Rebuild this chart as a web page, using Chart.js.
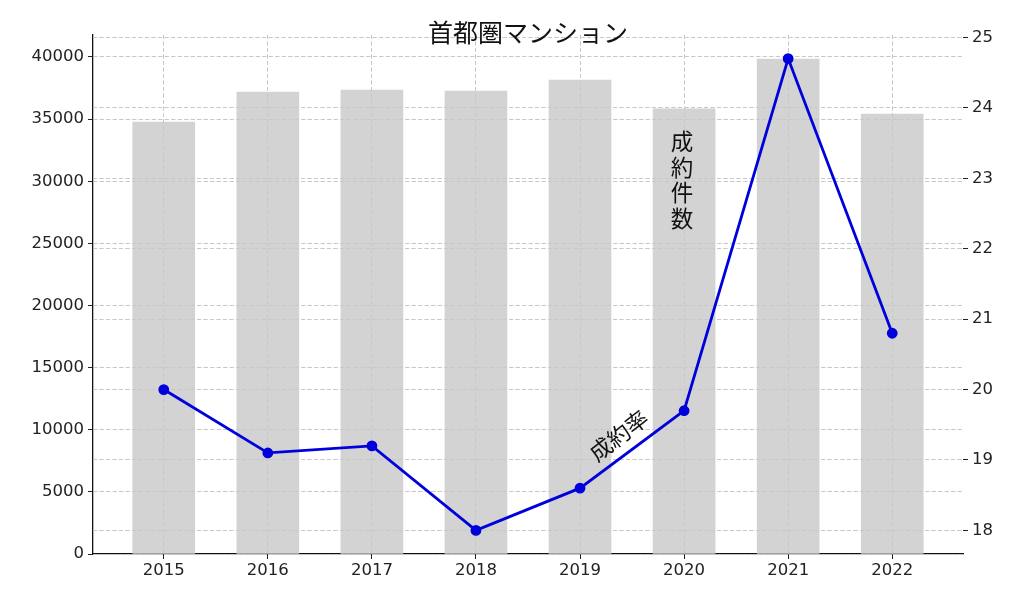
<!DOCTYPE html>
<html>
<head>
<meta charset="utf-8">
<script src="https://cdn.jsdelivr.net/npm/chart.js@4"></script>
<style>
  html, body { margin: 0; padding: 0; background: #fff; }
  #wrap { width: 1024px; height: 610px; }
</style>
</head>
<body>
<div id="wrap"><canvas id="chart" width="1024" height="610"></canvas></div>
<script>
// =========================
// DATA
// =========================

const YEARS = ["2015", "2016", "2017", "2018", "2019", "2020", "2021", "2022"];
const CONTRACTS = [34770, 37180, 37340, 37260, 38150, 35820, 39830, 35410];   // 成約件数
const RATE = [20.0, 19.1, 19.2, 18.0, 18.6, 19.7, 24.7, 20.8];                 // 成約率
const LEFT_TICKS = [0, 5000, 10000, 15000, 20000, 25000, 30000, 35000, 40000];
const RIGHT_TICKS = [18, 19, 20, 21, 22, 23, 24, 25];

const TITLE = "首都圏マンション";
const BAR_NOTE = "成約件数";
const LINE_NOTE = "成約率";

// =========================
// HELPERS
// =========================

const TICK_FONT = { family: "'DejaVu Sans', sans-serif", size: 16.5 };
const JP_FONT = "'Noto Sans CJK JP', sans-serif";
const GRID = {
  color: "#c8c8c8",
  lineWidth: 1,
  offset: false,
  tickLength: 5,
  tickColor: "#222",
  tickBorderDash: [],
  tickWidth: 1
};
const DASH = [4, 2.5];

function fixTicks(values) {
  return scale => { scale.ticks = values.map(v => ({ value: v })); };
}

// grid sits over the bars but under the line
const gridOverBars = {
  id: "gridOverBars",
  afterDatasetDraw(chart, args) {
    if (args.index !== 0) return;
    ["x", "y", "y1"].forEach(id => chart.scales[id].drawGrid(chart.chartArea));
  }
};

const notes = {
  id: "notes",
  afterDraw(chart) {
    const ctx = chart.ctx;
    const { x, y } = chart.scales;
    const area = chart.chartArea;
    ctx.save();
    ctx.fillStyle = "#111";
    ctx.textAlign = "center";
    ctx.textBaseline = "middle";

    ctx.font = "25px " + JP_FONT;
    ctx.fillText(TITLE, (area.left + area.right) / 2, 32);

    // vertical label on the 2020 bar
    ctx.font = "22.5px " + JP_FONT;
    const cx = x.getPixelForValue(5) - 2;
    const y0 = y.getPixelForValue(33200);
    [...BAR_NOTE].forEach((ch, i) => ctx.fillText(ch, cx, y0 + i * 25.5));

    // rotated label along the rising line
    ctx.translate(x.getPixelForValue(4.37), chart.scales.y1.getPixelForValue(19.35));
    ctx.rotate(-38 * Math.PI / 180);
    ctx.fillText(LINE_NOTE, 0, 0);
    ctx.restore();
  }
};

// =========================
// RENDER
// =========================

new Chart(document.getElementById("chart").getContext("2d"), {
  data: {
    datasets: [
      {
        type: "bar",
        order: 2,
        data: CONTRACTS.map((v, i) => ({ x: i, y: v })),
        backgroundColor: "#d3d3d3",
        borderWidth: 0,
        barThickness: 62,
        yAxisID: "y"
      },
      {
        type: "line",
        order: 1,
        data: RATE.map((v, i) => ({ x: i, y: v })),
        borderColor: "#0000dc",
        backgroundColor: "#0000dc",
        borderWidth: 2.8,
        pointRadius: 4,
        pointHoverRadius: 4,
        tension: 0,
        yAxisID: "y1"
      }
    ]
  },
  options: {
    responsive: false,
    animation: false,
    events: [],
    layout: { padding: { top: 35, left: 0, right: 0, bottom: 0 } },
    plugins: { legend: { display: false }, tooltip: { enabled: false } },
    scales: {
      x: {
        type: "linear",
        offset: false,
        min: -0.68,
        max: 7.68,
        afterBuildTicks: fixTicks(YEARS.map((_, i) => i)),
        afterFit: s => { s.height = 56; },
        ticks: {
          font: TICK_FONT,
          color: "#222",
          padding: 2,
          maxRotation: 0,
          callback: v => YEARS[v]
        },
        grid: GRID,
        border: { display: true, color: "#111", width: 1.3, dash: DASH }
      },
      y: {
        type: "linear",
        position: "left",
        min: 0,
        max: 41770,
        afterBuildTicks: fixTicks(LEFT_TICKS),
        afterFit: s => { s.width = 93; },
        ticks: { font: TICK_FONT, color: "#222", padding: 4, callback: v => String(v) },
        grid: GRID,
        border: { display: true, color: "#111", width: 1.3, dash: DASH }
      },
      y1: {
        type: "linear",
        position: "right",
        min: 17.665,
        max: 25.035,
        afterBuildTicks: fixTicks(RIGHT_TICKS),
        afterFit: s => { s.width = 61; },
        ticks: { font: TICK_FONT, color: "#222", padding: 4, callback: v => String(v) },
        grid: GRID,
        border: { display: false, dash: DASH }
      }
    }
  },
  plugins: [gridOverBars, notes]
});
</script>
</body>
</html>
